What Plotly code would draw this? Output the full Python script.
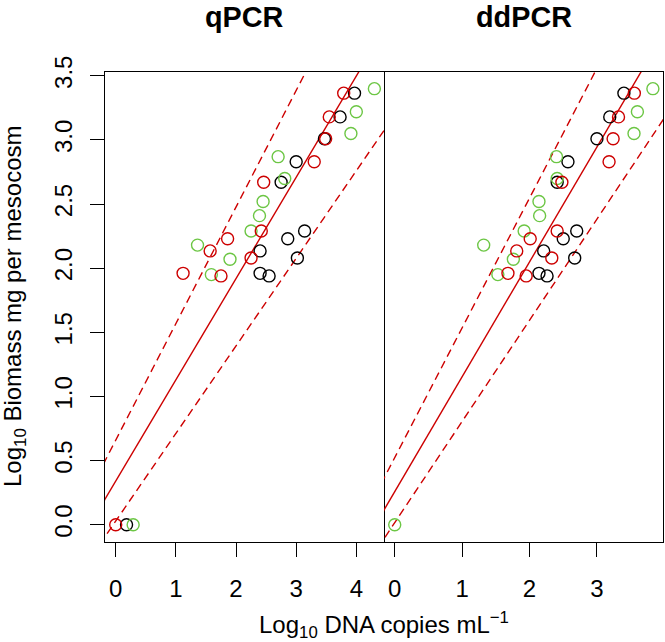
import plotly.graph_objects as go
import numpy as np

# Biomass (y) values
y_rb = [3.365, 3.18, 3.01, 2.83, 2.67, 2.29, 2.23, 2.135, 2.08, 1.96, 1.94, 0.0]
y_g = [3.40, 3.22, 3.05, 2.87, 2.70, 2.52, 2.41, 2.29, 2.18, 2.07, 1.95, 0.0]

# qPCR DNA copies (x)
q_red = [3.79, 3.55, 3.49, 3.30, 2.46, 2.42, 1.86, 1.57, 2.25, 1.12, 1.75, 0.0]
q_black = [3.97, 3.73, 3.47, 3.00, 2.75, 3.14, 2.86, 2.40, 3.02, 2.40, 2.55, 0.18]
q_green = [4.30, 4.00, 3.91, 2.70, 2.81, 2.45, 2.39, 2.25, 1.36, 1.90, 1.59, 0.29]

# ddPCR DNA copies (x)
d_red = [3.555, 3.32, 3.24, 3.18, 2.48, 2.41, 2.01, 1.81, 2.33, 1.68, 1.95]
d_black = [3.40, 3.19, 3.00, 2.57, 2.41, 2.70, 2.50, 2.21, 2.67, 2.14, 2.26]
d_green = [3.83, 3.60, 3.55, 2.40, 2.41, 2.14, 2.15, 1.92, 1.32, 1.76, 1.53, 0.0]

# regression lines: (intercept, slope) for fit, upper, lower
q_lines = {"fit": (0.339, 0.79), "upper": (0.659, 0.909), "lower": (0.028, 0.683)}
d_lines = {"fit": (0.257, 0.896), "upper": (0.523, 1.012), "lower": (0.016, 0.789)}

x_ticks_q = [0, 1, 2, 3, 4]
x_ticks_d = [0, 1, 2, 3]
y_ticks = [0, 0.5, 1, 1.5, 2, 2.5, 3, 3.5]
y_ticktext = ["0.0", "0.5", "1.0", "1.5", "2.0", "2.5", "3.0", "3.5"]

RED = "#CD0000"
GREEN = "#6CC644"
BLACK = "#000000"
FONT = "Liberation Sans, Arial, sans-serif"
FS = 24

fig = go.Figure()

def add_panel(xa, ya, reds, blacks, greens, yr, yg, lines):
    xs = np.array([-1.0, 6.0])
    for name, (a, b) in lines.items():
        fig.add_trace(go.Scatter(
            x=xs, y=a + b * xs, mode="lines", xaxis=xa, yaxis=ya,
            line=dict(color=RED, width=1.4, dash="solid" if name == "fit" else "8px,5px"),
            showlegend=False, hoverinfo="skip"))
    for xv, yv, c in [(blacks, yr, BLACK), (greens, yg, GREEN), (reds, yr, RED)]:
        fig.add_trace(go.Scatter(
            x=xv, y=yv[:len(xv)], mode="markers", xaxis=xa, yaxis=ya,
            marker=dict(symbol="circle-open", size=12, color=c, line=dict(width=1.4, color=c)),
            showlegend=False, cliponaxis=False))

add_panel("x", "y", q_red, q_black, q_green, y_rb, y_g, q_lines)
add_panel("x2", "y2", d_red, d_black, d_green, y_rb, y_g, d_lines)

axis_common = dict(showline=True, linecolor="black", linewidth=1, mirror=True,
                   ticks="outside", ticklen=14, tickcolor="black", tickwidth=1,
                   showgrid=False, zeroline=False, automargin=False,
                   tickfont=dict(family=FONT, size=FS, color="black"))

fig.update_layout(
    width=665, height=642,
    margin=dict(l=105, r=2, t=72, b=100),
    plot_bgcolor="white", paper_bgcolor="white",
    xaxis=dict(domain=[0, 0.5], range=[-0.178, 4.46], tickvals=x_ticks_q,
               ticklabelstandoff=11, **axis_common),
    xaxis2=dict(domain=[0.5, 1], range=[-0.159, 3.98], tickvals=x_ticks_d,
                ticklabelstandoff=11, **axis_common),
    yaxis=dict(range=[-0.135, 3.53], tickvals=y_ticks, ticktext=y_ticktext,
               tickangle=-90, ticklabelstandoff=8, **axis_common),
    yaxis2=dict(range=[-0.135, 3.53], anchor="x2", side="right", showticklabels=False,
                ticks="", showline=True, linecolor="black", linewidth=1, mirror=False,
                showgrid=False, zeroline=False, automargin=False),
)

fig.add_annotation(text="<b>qPCR</b>", x=0.25, y=1, xref="paper", yref="paper",
                   xanchor="center", yanchor="middle", yshift=55, showarrow=False,
                   font=dict(family=FONT, size=28.8, color="black"))
fig.add_annotation(text="<b>ddPCR</b>", x=0.75, y=1, xref="paper", yref="paper",
                   xanchor="center", yanchor="middle", yshift=55, showarrow=False,
                   font=dict(family=FONT, size=28.8, color="black"))
fig.add_annotation(text="Log<sub>10</sub> DNA copies mL<sup>−1</sup>", x=0.5, y=0,
                   xref="paper", yref="paper", xanchor="center", yanchor="middle",
                   yshift=-83, showarrow=False,
                   font=dict(family=FONT, size=FS, color="black"))
fig.add_annotation(text="Log<sub>10</sub> Biomass mg per mesocosm", x=0, y=0.5,
                   xref="paper", yref="paper", xanchor="center", yanchor="middle",
                   xshift=-91, textangle=-90, showarrow=False,
                   font=dict(family=FONT, size=FS, color="black"))

fig.write_html("out.html", config={"displayModeBar": False},
               post_script="document.body.style.margin='0';document.body.style.overflow='hidden';")
